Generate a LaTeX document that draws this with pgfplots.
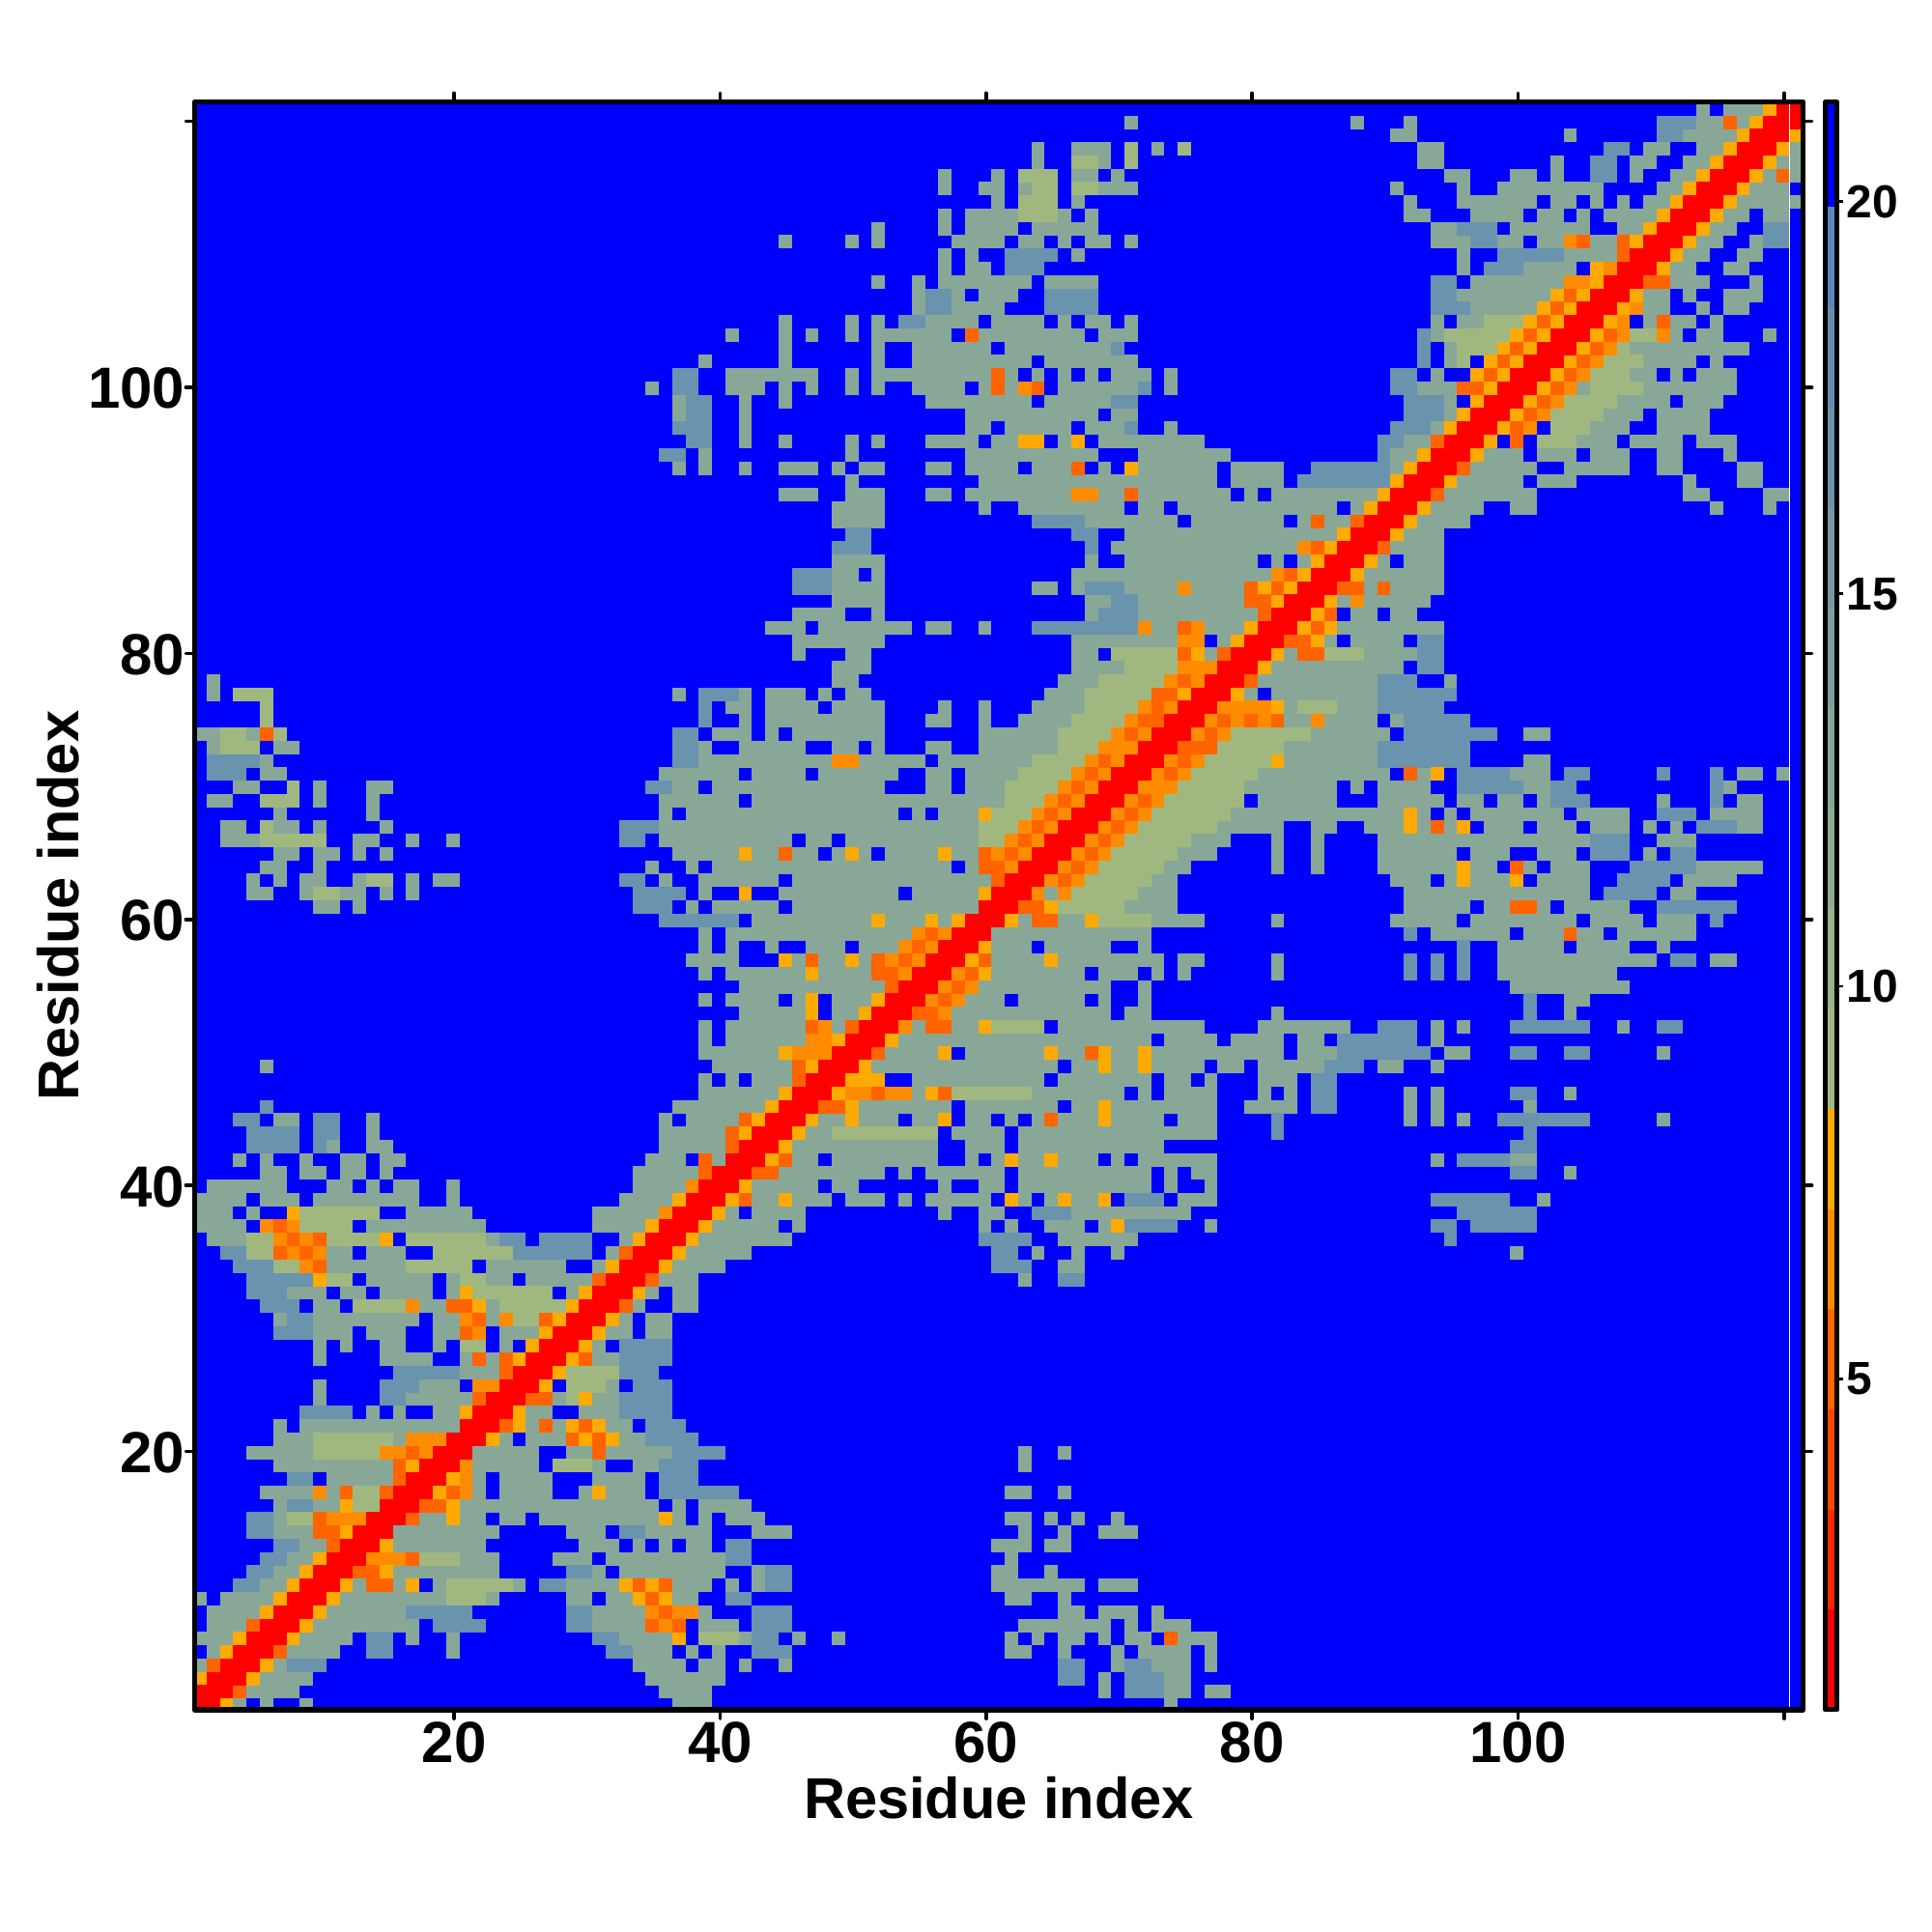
\documentclass[border=0pt]{standalone}
\usepackage{pgfplots}
\usepackage{fontspec}
\setmainfont{Liberation Sans}
\pgfplotsset{compat=1.18}
\definecolor{cM}{HTML}{89A797}
\definecolor{cS}{HTML}{6A93AE}
\definecolor{cL}{HTML}{A0B880}
\definecolor{cA}{HTML}{FFAA00}
\definecolor{cB}{HTML}{FF8C00}
\definecolor{cO}{HTML}{FF6400}
\definecolor{bb}{HTML}{FF2800}
\definecolor{bc}{HTML}{FF4800}
\definecolor{bg}{HTML}{98B288}
\definecolor{bh}{HTML}{90AC90}
\definecolor{bi}{HTML}{88A698}
\definecolor{bj}{HTML}{7FA09D}
\definecolor{bk}{HTML}{7698A5}
\definecolor{bl}{HTML}{6E92AC}
\definecolor{bm}{HTML}{668EB2}
\definecolor{bn}{HTML}{5A86BC}
\pgfplotsset{
 /pgfplots/table/runs/.style={header=false,x expr=\thisrowno{1}-0.6,y expr=\thisrowno{0}-0.07,x error expr=\thisrowno{2}-\thisrowno{1}+1},
 /pgfplots/table/one/.style={header=false,x expr=\thisrowno{1}-0.6,y expr=\thisrowno{0}-0.07,x error expr=1},
 cell/.style={draw=none,mark=none,forget plot,error bars/.cd,x dir=plus,x explicit,error mark=none,error bar style={line width=3.36pt,color=#1,solid}},
 band/.style={draw=none,fill=#1,forget plot}
}
\begin{document}
\begin{tikzpicture}
\path[use as bounding box] (0,0) rectangle (480pt,480pt);
\begin{axis}[name=main,at={(48.36pt,55.2pt)},anchor=south west,scale only axis,width=399.6pt,height=399.48pt,
 xmin=0.5,xmax=121.41,ymin=0.58,ymax=121.46,axis on top,
 axis background/.style={fill=blue},
 axis line style={line width=1.32pt,line join=round},
 tick align=outside,major tick length=2.2pt,
 tick style={line width=0.85pt,line cap=round,black},
 xtick={20,40,60,80,100,120},ytick={20,40,60,80,100,120},
 xticklabels={20,40,60,80,100,},yticklabels={20,40,60,80,100,},
 xtick pos=both,ytick pos=both,xticklabel pos=bottom,yticklabel pos=left,
 ticklabel style={font=\fontsize{14.4}{16}\selectfont\bfseries},
 xticklabel style={yshift=2.6pt},
 yticklabel style={xshift=3.3pt,yshift=-0.3pt},
 xlabel={Residue index},ylabel={Residue index},
 label style={font=\fontsize{14.3}{16}\selectfont\bfseries},
 xlabel style={at={(axis description cs:0.5,-0.0547)},anchor=center},
 ylabel style={at={(axis description cs:-0.085,0.5)},anchor=center},
]
\addplot[cell=cM] table[runs] {
121 114 114
121 116 121
120 71 71
120 88 88
120 92 92
120 111 121
119 91 92
119 104 104
119 111 121
118 64 64
118 67 69
118 71 71
118 73 73
118 75 75
118 93 94
118 107 108
118 110 111
118 114 121
117 64 64
117 67 69
117 71 71
117 93 94
117 103 103
117 106 107
117 109 110
117 113 121
116 57 57
116 61 61
116 63 65
116 67 68
116 70 70
116 95 96
116 100 101
116 103 103
116 106 107
116 109 109
116 112 121
115 57 57
115 60 61
115 63 65
115 67 71
115 91 91
115 96 96
115 99 106
115 111 120
114 61 61
114 63 65
114 67 67
114 92 92
114 96 101
114 103 104
114 106 106
114 108 108
114 110 121
113 57 57
113 59 66
113 68 68
113 92 93
113 97 100
113 102 103
113 105 105
113 107 117
113 119 120
112 52 52
112 57 57
112 59 62
112 64 68
112 94 98
112 100 105
112 108 116
112 119 120
111 45 45
111 50 50
111 52 52
111 58 61
111 63 64
111 66 66
111 68 69
111 71 71
111 94 100
111 102 115
111 118 120
110 57 57
110 59 59
110 62 65
110 67 67
110 96 96
110 99 114
110 117 118
109 57 57
109 59 60
109 62 64
109 96 96
109 98 104
109 106 113
109 116 117
108 52 52
108 55 55
108 57 63
108 65 68
108 94 95
108 97 114
108 118 118
107 55 58
107 60 62
107 65 68
107 94 111
107 113 113
107 116 118
106 55 61
106 65 68
106 94 111
106 114 114
106 116 117
105 45 45
105 50 50
105 52 52
105 54 59
105 61 64
105 66 66
105 68 69
105 71 71
105 94 94
105 96 108
105 110 113
105 115 115
104 41 41
104 45 45
104 47 47
104 50 50
104 52 57
104 59 67
104 69 71
104 93 112
104 114 115
104 119 119
103 45 45
103 52 52
103 55 60
103 62 70
103 93 93
103 95 117
102 39 39
102 45 45
102 52 52
102 55 63
102 65 71
102 93 93
102 95 96
102 98 113
102 115 115
101 37 38
101 41 47
101 50 50
101 52 62
101 64 64
101 66 66
101 68 68
101 70 72
101 74 74
101 91 92
101 94 94
101 97 110
101 112 112
101 114 116
100 35 35
100 37 38
100 41 43
100 45 45
100 47 47
100 50 50
100 52 52
100 55 58
100 60 64
100 66 72
100 74 74
100 91 116
99 37 39
99 42 42
99 45 45
99 56 63
99 65 71
99 92 95
99 97 111
99 113 115
98 37 39
98 42 42
98 59 68
98 70 71
98 92 109
98 111 114
97 37 39
97 42 42
97 59 60
97 62 66
97 68 71
97 74 74
97 91 101
97 103 108
97 111 114
96 38 39
96 42 42
96 45 45
96 50 50
96 52 52
96 56 59
96 61 64
96 66 67
96 69 76
96 90 98
96 100 100
96 102 107
96 109 112
96 114 116
95 36 37
95 39 39
95 50 50
95 59 68
95 72 78
95 90 100
95 102 104
95 106 108
95 111 112
95 116 116
94 37 37
94 39 39
94 42 42
94 45 47
94 49 49
94 51 52
94 56 57
94 59 62
94 64 67
94 69 69
94 71 77
94 79 82
94 85 101
94 104 108
94 111 112
94 117 118
93 50 50
93 60 77
93 79 82
93 84 100
93 102 104
93 113 113
93 117 118
92 45 47
92 50 52
92 56 57
92 59 78
92 80 80
92 82 101
92 113 114
92 119 120
91 49 52
91 60 60
91 63 70
91 72 73
91 75 86
91 88 97
91 100 101
91 115 115
91 119 119
90 49 52
90 64 74
90 76 82
90 84 96
89 50 51
89 67 68
89 71 94
88 49 51
88 68 68
88 70 94
87 49 52
87 68 68
87 71 80
87 82 82
87 84 90
87 92 94
86 46 50
86 52 52
86 67 94
85 46 52
85 64 65
85 67 94
84 49 52
84 68 93
83 46 49
83 52 52
83 68 86
83 88 89
83 91 92
82 44 46
82 48 54
82 56 57
82 60 60
82 64 94
81 46 52
81 67 76
81 78 86
81 88 91
81 93 94
80 46 46
80 50 51
80 67 68
80 70 94
79 49 51
79 67 91
79 93 94
78 2 2
78 49 50
78 66 92
78 95 95
77 2 2
77 4 6
77 37 37
77 39 42
77 44 46
77 48 48
77 50 51
77 65 80
77 82 95
76 6 6
76 39 39
76 41 42
76 44 47
76 49 52
76 57 57
76 60 60
76 64 94
75 6 6
75 39 39
75 42 42
75 44 52
75 56 57
75 60 60
75 63 89
75 91 96
74 1 7
74 37 38
74 40 42
74 44 44
74 46 52
74 60 90
74 92 98
74 101 102
73 2 5
73 7 8
73 37 39
73 42 46
73 49 50
73 52 52
73 56 57
73 60 96
72 2 6
72 37 55
72 57 96
72 101 102
71 2 4
71 6 7
71 36 41
71 43 46
71 48 53
71 56 57
71 59 90
71 92 94
71 96 102
71 104 105
71 111 111
71 115 115
71 117 118
71 120 120
70 4 5
70 8 8
70 10 10
70 14 15
70 35 38
70 40 52
70 56 57
70 59 86
70 88 88
70 90 93
70 96 104
70 115 116
69 2 3
69 6 8
69 10 10
69 14 14
69 36 41
69 43 79
69 81 86
69 90 94
69 96 97
69 99 100
69 102 105
69 111 111
69 115 115
69 117 118
68 7 7
68 14 14
68 36 36
68 38 53
68 55 55
68 57 93
68 95 95
68 97 103
68 105 108
68 111 113
68 115 118
67 3 4
67 6 8
67 10 10
67 15 15
67 33 82
67 85 86
67 89 96
67 98 100
67 102 104
67 106 108
67 110 110
67 112 112
67 114 118
66 3 10
66 13 14
66 17 17
66 20 20
66 33 34
66 36 45
66 47 48
66 50 78
66 82 82
66 85 85
66 90 108
66 111 113
65 7 8
65 10 11
65 13 13
65 15 15
65 37 47
65 49 51
65 53 77
65 82 82
65 85 85
65 90 95
65 97 99
65 102 104
65 106 108
65 110 110
65 112 113
64 6 7
64 10 10
64 35 35
64 38 38
64 40 57
64 59 75
64 82 82
64 85 85
64 90 98
64 100 101
64 103 105
64 109 118
63 5 5
63 7 7
63 9 10
63 13 15
63 17 17
63 19 20
63 33 34
63 36 36
63 39 44
63 46 74
63 91 93
63 95 100
63 102 105
63 108 111
63 113 116
62 5 6
62 9 13
62 15 15
62 17 17
62 34 37
62 39 39
62 42 42
62 45 53
62 55 74
62 92 105
62 107 110
62 112 113
61 10 11
61 13 13
61 34 36
61 38 38
61 40 44
61 46 74
61 92 96
61 98 102
61 104 108
61 111 116
60 36 41
60 43 76
60 82 82
60 91 95
60 97 104
60 106 109
60 111 113
60 115 115
59 39 39
59 41 72
59 92 92
59 94 99
59 101 106
59 108 113
58 39 39
58 41 41
58 44 44
58 47 49
58 51 63
58 65 69
58 72 72
58 96 96
58 99 103
58 105 108
58 111 111
57 38 41
57 45 73
57 75 76
57 82 82
57 92 92
57 94 94
57 96 96
57 99 110
57 112 113
57 115 116
56 39 39
56 41 67
56 69 71
56 73 73
56 75 75
56 82 82
56 92 92
56 94 94
56 96 96
56 99 107
55 42 69
55 72 72
55 100 108
54 39 39
54 41 44
54 46 47
54 49 61
54 63 67
54 69 69
54 72 72
54 101 101
54 104 105
53 42 47
53 49 69
53 71 72
53 82 82
53 101 101
53 104 104
52 39 39
52 41 64
52 66 76
52 81 87
52 90 92
52 94 94
52 96 96
52 100 105
52 108 108
52 111 112
51 39 39
51 41 72
51 74 77
51 79 82
51 84 85
51 87 92
51 94 94
50 39 57
50 59 82
50 84 93
50 95 96
50 100 101
50 104 105
50 111 111
49 6 6
49 40 65
49 67 76
49 78 79
49 81 88
49 90 91
49 94 94
48 39 39
48 41 41
48 43 52
48 55 64
48 66 72
48 74 75
48 77 77
48 81 83
48 85 86
47 39 70
47 72 72
47 74 77
47 81 81
47 83 83
47 85 86
47 92 92
47 94 94
47 100 101
47 104 104
46 6 6
46 37 57
46 59 65
46 67 77
46 80 83
46 85 86
46 92 92
46 94 94
46 101 101
45 4 5
45 7 8
45 10 11
45 14 14
45 36 36
45 38 53
45 55 57
45 59 60
45 62 62
45 64 73
45 75 77
45 82 82
45 92 92
45 94 94
45 96 96
45 99 105
45 111 111
44 5 8
44 10 11
44 14 14
44 36 56
44 58 61
44 63 77
44 82 82
44 101 101
43 5 8
43 10 11
43 14 15
43 36 56
43 59 61
43 63 73
43 100 101
42 4 4
42 6 6
42 9 9
42 12 13
42 15 16
42 35 37
42 39 47
42 49 56
42 59 59
42 61 68
42 70 70
42 72 77
42 94 94
42 96 101
41 6 7
41 9 10
41 12 13
41 15 15
41 34 52
41 54 54
41 56 61
41 63 72
41 74 74
41 76 77
41 100 101
41 104 104
40 2 7
40 11 12
40 14 14
40 16 17
40 20 20
40 34 47
40 49 50
40 57 57
40 60 61
40 63 72
40 74 74
40 77 77
39 1 4
39 6 8
39 10 17
39 20 20
39 33 48
39 50 52
39 54 54
39 56 60
39 62 63
39 65 69
39 71 73
39 75 77
39 94 99
39 102 102
38 1 3
38 5 5
38 8 14
38 17 21
38 31 41
38 43 46
38 57 57
38 60 61
38 64 75
38 96 101
37 1 4
37 6 12
37 14 22
37 31 44
37 46 46
37 60 60
37 62 62
37 65 67
37 69 74
37 77 77
37 94 95
37 97 101
36 2 15
36 17 25
36 27 30
36 33 45
36 60 63
36 66 71
36 95 95
35 3 12
35 14 16
35 19 30
35 32 42
35 61 62
35 64 64
35 67 67
35 70 70
35 100 100
34 4 21
34 23 28
34 31 40
34 61 63
34 66 67
33 5 12
33 14 18
33 20 24
33 26 38
33 63 63
33 66 67
32 5 10
32 12 13
32 15 18
32 20 27
32 29 35
32 37 38
31 6 8
31 10 11
31 13 34
31 37 38
30 7 17
30 19 33
30 35 36
29 7 12
29 14 16
29 19 22
29 24 33
29 35 36
28 10 10
28 12 12
28 15 16
28 19 19
28 21 22
28 24 24
28 26 31
28 33 36
27 10 10
27 15 18
27 21 36
26 16 35
25 10 10
25 15 20
25 22 27
25 29 32
25 34 36
24 10 10
24 15 36
23 9 12
23 14 14
23 16 16
23 19 27
23 30 36
22 7 7
22 9 33
22 35 37
21 7 24
21 26 38
20 5 26
20 29 40
20 63 63
20 66 66
19 7 26
19 28 31
19 34 38
19 63 63
18 8 9
18 11 22
18 24 27
18 31 34
18 36 38
17 6 22
17 24 27
17 30 34
17 36 41
17 62 63
17 66 66
16 7 35
16 37 37
16 39 42
15 5 22
15 24 25
15 27 37
15 39 39
15 41 43
15 62 63
15 65 65
15 67 67
15 70 70
14 5 23
14 29 31
14 33 39
14 43 45
14 63 63
14 66 66
14 69 71
13 7 22
13 30 32
13 34 34
13 36 36
13 38 39
13 41 42
13 61 63
13 65 66
12 6 23
12 28 30
12 32 42
12 62 62
11 5 23
11 29 31
11 33 40
11 43 45
11 61 62
11 65 65
10 4 17
10 19 25
10 27 39
10 41 41
10 43 45
10 61 67
10 69 71
9 1 1
9 3 23
9 29 30
9 32 38
9 41 42
9 62 63
9 66 66
8 2 21
8 29 39
8 43 45
8 66 67
8 69 71
8 73 73
7 2 17
7 19 22
7 29 37
7 39 41
7 43 45
7 63 69
7 71 71
7 73 75
6 1 12
6 14 15
6 17 17
6 20 20
6 31 37
6 39 44
6 46 46
6 49 49
6 62 62
6 64 64
6 66 67
6 69 69
6 71 72
6 74 77
5 2 11
5 14 15
5 20 20
5 32 36
5 38 38
5 40 40
5 43 45
5 62 63
5 66 66
5 70 70
5 72 75
5 77 77
4 1 10
4 34 37
4 39 40
4 42 42
4 45 45
4 66 67
4 70 75
4 77 77
3 1 9
3 35 40
3 66 67
3 69 69
3 71 75
2 1 8
2 36 39
2 69 69
2 71 75
2 77 78
1 1 4
1 6 6
1 9 9
1 37 39
1 74 74
};
\addplot[cell=cS] table[runs] {
120 111 113
119 111 112
118 107 108
117 106 107
116 106 107
112 96 98
111 97 98
111 119 120
112 119 120
110 99 103
109 98 100
108 94 95
107 94 95
106 94 96
104 93 93
103 93 93
102 93 93
101 37 38
101 91 92
100 37 38
100 91 92
99 38 39
99 92 94
98 38 39
98 92 94
97 37 39
97 91 93
96 38 39
96 90 91
95 36 37
95 90 90
94 85 90
93 84 90
110 62 65
109 62 64
107 56 57
106 56 57
107 65 68
106 65 68
105 54 55
103 70 70
100 72 72
99 70 71
97 71 71
90 64 67
89 50 51
89 67 68
88 49 51
88 68 68
86 46 48
85 46 48
85 68 70
84 70 71
83 69 71
82 64 71
81 93 94
80 93 94
79 93 94
78 90 92
77 90 95
76 90 94
75 92 96
74 92 98
73 90 96
72 90 96
71 96 99
70 96 100
72 2 5
71 2 4
77 39 41
76 39 39
75 39 39
74 37 38
73 37 38
72 37 38
70 35 36
67 33 35
66 33 34
63 33 34
62 34 37
61 34 36
60 36 41
66 106 108
65 106 108
65 112 113
64 109 113
63 108 111
62 107 110
61 111 116
71 104 105
71 111 111
71 115 115
70 103 104
70 115 115
69 103 105
69 115 115
68 111 113
67 114 116
60 115 115
57 112 113
59 92 92
58 96 96
57 92 92
57 94 94
57 96 96
56 92 92
56 94 94
56 96 96
54 101 101
53 101 101
52 90 92
52 100 105
52 111 112
51 87 92
50 87 93
50 100 101
50 104 105
49 86 88
48 85 86
47 85 86
47 100 101
46 85 86
45 82 82
45 99 105
44 82 82
44 101 101
43 100 101
42 96 99
41 100 101
39 94 99
38 96 101
37 94 95
37 97 101
36 95 95
46 6 6
45 4 5
44 5 8
43 5 8
45 10 11
44 10 11
43 10 10
38 64 66
39 71 73
37 71 74
36 60 63
36 24 25
36 27 30
35 25 30
35 61 62
35 3 5
34 4 6
34 61 63
33 5 9
33 66 67
32 5 7
31 6 8
30 8 9
29 7 9
28 33 36
27 33 36
26 16 20
26 33 35
25 15 17
25 34 36
24 15 16
24 33 36
23 9 12
23 33 36
22 35 37
21 35 38
20 37 40
19 36 38
18 8 9
18 36 38
17 36 41
16 8 9
15 5 6
14 5 6
14 33 34
13 7 8
12 6 7
11 5 6
11 29 30
10 4 5
10 27 28
8 17 21
8 29 30
7 19 22
7 29 30
6 14 15
6 31 32
5 14 15
5 32 33
4 8 10
13 41 42
12 41 42
9 41 42
11 44 45
10 44 45
8 43 45
7 43 45
6 43 44
5 43 45
4 66 67
3 66 67
3 71 73
2 71 73
4 71 72
};
\addplot[cell=cL] table[runs] {
118 75 75
118 71 71
117 71 71
117 67 68
116 63 65
115 64 65
114 63 65
113 63 65
115 67 68
105 98 100
104 95 99
104 109 110
103 96 99
103 108 108
102 96 96
102 107 109
101 106 108
100 106 109
99 104 107
98 103 106
97 103 105
96 102 104
80 70 74
79 71 74
78 69 73
77 68 72
76 68 71
75 67 70
74 66 69
73 66 68
72 64 67
71 63 66
70 62 65
69 62 64
68 61 63
67 60 62
66 60 61
80 86 88
76 84 86
74 79 84
73 78 82
72 77 81
71 76 80
70 75 79
69 74 79
68 73 78
67 72 77
66 71 75
65 70 74
64 69 73
63 68 72
62 67 71
61 66 70
60 69 72
77 4 6
76 6 6
75 6 6
74 3 4
74 7 7
73 3 5
70 8 8
69 6 8
67 6 6
66 6 10
63 14 15
62 10 11
52 61 64
47 58 63
44 49 56
38 9 14
37 9 12
36 11 14
36 17 22
35 19 24
36 5 6
35 5 6
34 7 8
34 17 21
33 11 12
33 21 22
32 22 27
31 13 16
31 24 28
30 25 26
28 21 22
26 28 32
25 29 31
24 29 29
21 10 15
20 10 14
19 28 30
17 13 14
16 13 14
15 8 9
12 18 20
10 20 24
9 20 22
6 39 41
};
\addplot[cell=cB] table[one] {
111 104
109 107
108 104
108 105
106 109
105 108
104 108
104 111
103 107
102 106
101 105
100 63
100 104
99 103
98 102
97 101
92 67
92 68
88 84
86 82
85 75
84 88
82 76
82 72
81 75
81 76
79 75
79 76
79 77
78 74
78 76
76 72
76 74
76 78
76 79
76 80
76 81
75 71
75 77
75 79
75 81
75 85
74 70
74 72
74 76
74 78
73 69
73 70
73 71
72 49
72 50
72 68
72 70
72 74
72 76
71 67
71 69
71 73
71 75
70 66
70 68
70 72
70 73
70 74
69 65
69 67
69 71
69 73
68 64
68 66
68 70
68 72
67 63
67 65
67 69
67 71
66 62
66 64
66 68
66 70
65 61
65 63
65 67
65 69
64 62
64 66
64 68
63 65
63 67
62 64
62 66
59 55
59 57
58 54
58 56
57 53
57 55
56 54
56 58
55 57
55 59
54 56
54 58
53 57
52 54
52 48
51 47
51 48
50 46
50 47
50 48
47 50
47 51
47 53
47 54
40 38
38 36
37 6
37 8
36 7
36 9
35 8
35 10
34 9
31 17
30 21
30 24
29 22
25 22
25 23
21 17
21 18
21 19
20 15
20 16
20 18
19 21
18 21
17 10
17 21
15 11
15 12
15 13
12 14
12 15
12 16
8 35
8 37
8 38
7 36
};
\addplot[cell=cA] table[one] {
121 119
120 118
119 117
119 121
118 116
118 120
117 115
117 119
116 114
116 118
115 113
115 117
114 112
114 116
113 111
113 115
112 110
112 114
111 109
111 113
110 112
109 106
109 111
108 106
107 103
107 105
107 109
106 102
106 104
106 108
105 101
105 103
105 107
104 100
104 102
104 106
103 99
103 101
103 105
102 98
102 100
102 104
101 97
101 99
101 103
100 98
100 102
99 97
99 101
98 96
98 100
97 95
97 99
96 63
96 64
96 67
96 98
95 93
95 97
94 71
94 92
93 91
93 95
92 90
91 89
91 93
90 92
89 87
89 91
88 86
88 89
87 85
87 89
86 84
86 88
85 81
85 83
84 82
84 86
83 85
82 80
82 84
82 86
81 79
81 85
80 76
80 82
79 81
77 75
77 79
76 82
72 82
71 94
68 60
68 92
67 92
67 96
65 42
65 50
65 57
64 96
63 96
63 100
62 42
62 60
61 65
60 52
60 56
60 58
60 62
60 68
58 60
57 45
57 50
57 59
57 65
56 47
56 60
54 47
54 52
53 47
53 51
52 60
51 49
51 53
50 45
50 57
50 65
50 69
50 72
49 47
49 51
49 69
49 72
48 50
48 51
48 52
47 45
47 49
47 56
46 44
46 50
46 69
45 43
45 47
45 50
45 57
45 69
44 42
44 46
43 45
42 44
42 62
42 65
40 42
39 37
39 41
39 45
39 62
39 66
39 69
38 8
38 40
37 35
37 39
37 70
36 15
36 34
36 38
35 37
34 32
34 36
33 10
32 21
32 30
32 34
31 22
31 29
30 28
30 32
29 27
29 31
28 26
28 30
27 25
27 29
26 28
25 27
24 30
23 21
23 25
22 25
22 29
22 31
21 23
21 30
21 32
19 17
18 20
17 19
17 31
16 12
16 20
15 20
15 36
14 12
13 15
12 10
11 9
11 15
10 8
10 12
10 17
10 33
10 35
9 7
9 11
9 34
9 36
8 6
8 10
7 9
6 4
6 8
6 37
5 3
4 6
3 1
3 5
1 3
};
\addplot[cell=cO] table[one] {
120 116
116 120
111 105
111 108
110 108
108 110
108 111
107 104
106 103
105 102
105 111
104 59
104 101
104 107
103 100
103 106
102 99
102 105
101 61
101 98
101 104
100 61
100 64
100 96
100 97
100 103
99 102
98 101
97 100
96 94
96 100
94 67
94 96
92 71
92 94
90 85
90 88
88 85
88 90
86 83
85 80
85 82
85 87
85 88
85 90
84 80
84 81
83 81
83 86
82 75
82 85
81 83
81 84
80 75
80 78
80 84
80 85
78 75
78 80
77 73
77 74
76 73
75 72
75 73
75 78
75 80
75 82
74 6
74 71
74 77
73 75
73 76
73 77
72 69
72 75
71 68
71 74
71 92
70 67
69 66
69 72
68 65
68 71
67 64
67 70
67 94
66 63
66 69
65 45
65 60
65 62
65 68
64 60
64 61
64 67
64 100
63 61
63 66
61 63
61 64
61 100
61 101
60 64
60 65
59 56
59 104
58 55
57 47
57 52
57 54
57 60
56 52
56 53
56 59
55 53
55 58
54 57
53 55
53 56
52 47
52 50
52 56
52 57
50 52
50 68
49 46
48 46
47 52
47 57
46 48
46 49
45 42
45 65
44 41
43 41
42 39
42 45
41 39
41 43
41 44
39 42
37 7
36 8
36 10
35 7
35 9
35 33
34 10
33 31
33 35
31 20
31 21
31 33
30 22
30 27
29 21
27 22
27 24
27 30
26 24
24 22
24 26
24 27
22 24
22 27
22 30
21 29
21 31
20 17
20 31
19 16
18 16
17 12
17 15
17 20
16 18
16 19
15 10
15 17
14 10
14 11
13 11
12 17
11 13
11 14
10 14
10 15
10 34
10 36
9 35
8 36
7 5
7 35
7 37
6 74
5 7
4 2
2 4
};
\addplot[cell=red] table[runs] {
121 120 121
120 119 121
119 118 120
118 117 119
117 116 118
116 115 117
115 114 116
114 113 115
113 112 114
112 111 113
111 110 112
110 109 111
109 108 110
108 107 109
107 106 108
106 105 107
105 104 106
104 103 105
103 102 104
102 101 103
101 100 102
100 99 101
99 98 100
98 97 99
97 96 98
96 95 97
95 94 96
94 93 95
93 92 94
92 91 93
91 90 92
90 89 91
89 88 90
88 87 89
87 86 88
86 85 87
85 84 86
84 83 85
83 82 84
82 81 83
81 80 82
80 79 81
79 78 80
78 77 79
77 76 78
76 75 77
75 74 76
74 73 75
73 72 74
72 71 73
71 70 72
70 69 71
69 68 70
68 67 69
67 66 68
66 65 67
65 64 66
64 63 65
63 62 64
62 61 63
61 60 62
60 59 61
59 58 60
58 57 59
57 56 58
56 55 57
55 54 56
54 53 55
53 52 54
52 51 53
51 50 52
50 49 51
49 48 50
48 47 49
47 46 48
46 45 47
45 44 46
44 43 45
43 42 44
42 41 43
41 40 42
40 39 41
39 38 40
38 37 39
37 36 38
36 35 37
35 34 36
34 33 35
33 32 34
32 31 33
31 30 32
30 29 31
29 28 30
28 27 29
27 26 28
26 25 27
25 24 26
24 23 25
23 22 24
22 21 23
21 20 22
20 19 21
19 18 20
18 17 19
17 16 18
16 15 17
15 14 16
14 13 15
13 12 14
12 11 13
11 10 12
10 9 11
9 8 10
8 7 9
7 6 8
6 5 7
5 4 6
4 3 5
3 2 4
2 1 3
1 1 2
};
\addplot[white,line width=0.24pt,forget plot] coordinates {(120.4,0.58)(120.4,121.46)};
\end{axis}
\begin{axis}[at={(453.48pt,55.2pt)},anchor=south west,scale only axis,width=2.88pt,height=399.48pt,
 xmin=0,xmax=1,ymin=0.78,ymax=21.27,axis on top,
 axis line style={line width=1.2pt,line join=round},
 xtick=\empty,ytick={5,10,15,20},yticklabels={5,10,15,20},ytick pos=right,yticklabel pos=right,
 tick align=outside,major tick length=1.6pt,tick style={line width=0.7pt,black},
 yticklabel style={font=\fontsize{11.5}{14}\selectfont\bfseries,anchor=west,inner sep=0pt,xshift=0.6pt},
]
\addplot[band=red] coordinates {(0,0.78)(1,0.78)(1,2.06)(0,2.06)} --cycle;
\addplot[band=bb] coordinates {(0,2.06)(1,2.06)(1,3.33)(0,3.33)} --cycle;
\addplot[band=bc] coordinates {(0,3.33)(1,3.33)(1,4.61)(0,4.61)} --cycle;
\addplot[band=cO] coordinates {(0,4.61)(1,4.61)(1,5.89)(0,5.89)} --cycle;
\addplot[band=cB] coordinates {(0,5.89)(1,5.89)(1,7.16)(0,7.16)} --cycle;
\addplot[band=cA] coordinates {(0,7.16)(1,7.16)(1,8.44)(0,8.44)} --cycle;
\addplot[band=cL] coordinates {(0,8.44)(1,8.44)(1,9.72)(0,9.72)} --cycle;
\addplot[band=bg] coordinates {(0,9.72)(1,9.72)(1,10.99)(0,10.99)} --cycle;
\addplot[band=bh] coordinates {(0,10.99)(1,10.99)(1,12.27)(0,12.27)} --cycle;
\addplot[band=bi] coordinates {(0,12.27)(1,12.27)(1,13.55)(0,13.55)} --cycle;
\addplot[band=bj] coordinates {(0,13.55)(1,13.55)(1,14.82)(0,14.82)} --cycle;
\addplot[band=bk] coordinates {(0,14.82)(1,14.82)(1,16.1)(0,16.1)} --cycle;
\addplot[band=bl] coordinates {(0,16.1)(1,16.1)(1,17.37)(0,17.37)} --cycle;
\addplot[band=bm] coordinates {(0,17.37)(1,17.37)(1,18.65)(0,18.65)} --cycle;
\addplot[band=bn] coordinates {(0,18.65)(1,18.65)(1,19.93)(0,19.93)} --cycle;
\addplot[band=blue] coordinates {(0,19.93)(1,19.93)(1,21.27)(0,21.27)} --cycle;
\end{axis}
\end{tikzpicture}
\end{document}
